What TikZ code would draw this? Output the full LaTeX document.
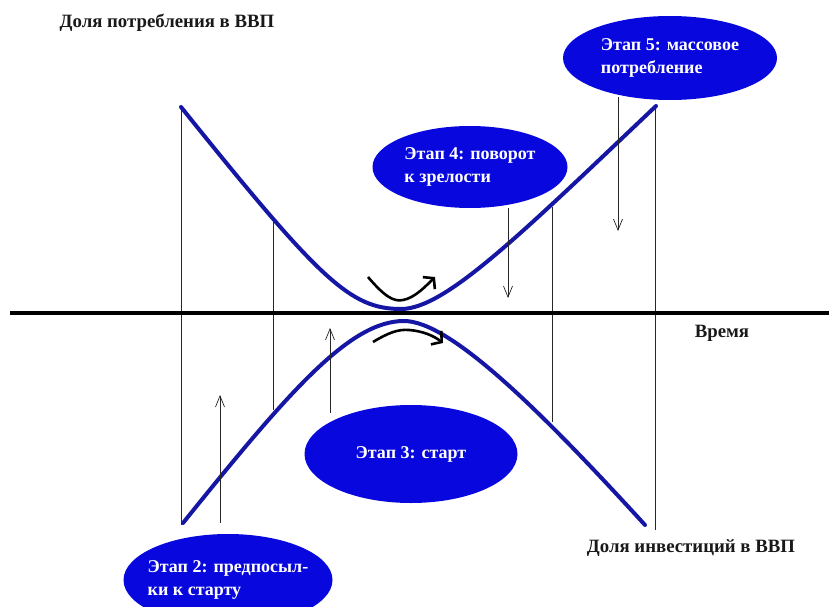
\documentclass[tikz,border=0pt]{standalone}
\usepackage{fontspec}
\setmainfont{Liberation Serif}
\usepackage{tikz}
\usetikzlibrary{arrows.meta,calc,positioning,shapes.geometric}

\definecolor{stageblue}{RGB}{8,8,222}
\definecolor{curveblue}{RGB}{22,22,165}

\begin{document}
\begin{tikzpicture}[x=1pt,y=-1pt,
    stage/.style={ellipse,fill=stageblue,inner sep=-20pt,text=white,align=left,
      font=\fontsize{18}{23}\selectfont\bfseries},
    axislabel/.style={text=black!90,font=\fontsize{18.8}{21}\selectfont\bfseries},
    curve/.style={curveblue,line width=4pt,line cap=round},
    guide/.style={black!85,line width=0.7pt},
    guidearrow/.style={guide,-{Straight Barb[length=11pt,width=9pt]}},
    turn/.style={black,line width=2.6pt,-{Straight Barb[length=7pt,width=17pt]}}]
  \clip (0,0) rectangle (829,607);
  \fill[white] (0,0) rectangle (829,607);

  % points on the curves
  \coordinate (u1) at (181,107); \coordinate (l1) at (181,525);
  \coordinate (u2) at (273,222); \coordinate (l2) at (273,410);
  \coordinate (u3) at (552,207); \coordinate (l3) at (552,422);
  \coordinate (u4) at (655,106); \coordinate (l4) at (655,530);
  \foreach \i in {1,...,4}{
    \draw[guide] (u\i) -- (l\i);}

  % time axis
  \coordinate (ax0) at (10,313);
  \coordinate (ax1) at (829,313);
  \draw[black,line width=4pt] (ax0) -- (ax1);

  % consumption and investment curves
  \coordinate (umin) at (401,309);
  \coordinate (lmax) at (404,321);
  \draw[curve] (181,107) .. controls (320,280) and (350,309) .. (umin)
    .. controls (445,309) and (520,235) .. (656,106);
  \draw[curve] (183,523) .. controls (290,390) and (350,321) .. (lmax)
    .. controls (450,321) and (540,410) .. (645,525);

  \draw[turn] (368,277) .. controls (385,297) and (394,302) .. (403,300)
    .. controls (414,298) and (424,288) .. (435,277);
  \draw[turn] (373,342) .. controls (388,333) and (398,329) .. (409,330)
    .. controls (423,331) and (434,336) .. (443,343);

  % stages
  \node[stage,minimum width=214pt,minimum height=84pt] (s5) at (670,58)
    {Этап 5: массовое\\потребление};
  \node[stage,minimum width=195pt,minimum height=82pt] (s4) at (470,167)
    {Этап 4: поворот\\к зрелости};
  \node[stage,minimum width=213pt,minimum height=98pt] (s3) at (411,454)
    {Этап 3: старт};
  \node[stage,minimum width=209pt,minimum height=92pt] (s2) at (228,580)
    {Этап 2: предпосыл-\\ки к старту};

  \coordinate (t2) at (220,395);
  \coordinate (t3) at (330,328);
  \coordinate (t4) at (508,298);
  \coordinate (t5) at (618,231);
  \draw[guidearrow] ($(s2.north -| t2)+(0,-11)$) -- (t2);
  \draw[guidearrow] ($(s3.north -| t3)+(0,8)$) -- (t3);
  \draw[guidearrow] (s4.south -| t4) -- (t4);
  \draw[guidearrow] ($(s5.south -| t5)+(0,-3)$) -- (t5);

  % axis labels
  \node[axislabel] (cons) at (167,23) {Доля потребления в ВВП};
  \node[axislabel] (time) at (722,333) {Время};
  \node[axislabel] (inv) at (691,548) {Доля инвестиций в ВВП};
\end{tikzpicture}
\end{document}
